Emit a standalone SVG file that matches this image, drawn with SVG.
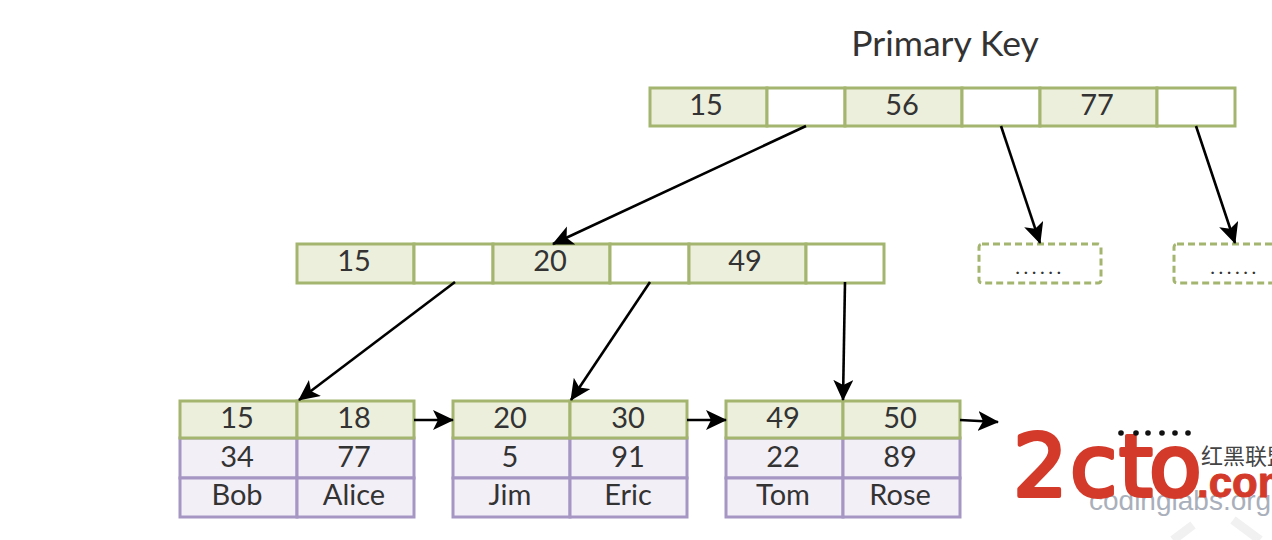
<svg xmlns="http://www.w3.org/2000/svg" width="1272" height="540" viewBox="0 0 1272 540">
<defs>
<marker id="ah" markerUnits="userSpaceOnUse" markerWidth="24" markerHeight="24" refX="20" refY="10" orient="auto"><path d="M0,0 L21,10 L0,20 L5,10 Z" fill="#000"/></marker>
</defs>
<style>
text{font-family:"Lato","Noto Sans",sans-serif;fill:#333;text-anchor:middle}
.v{font-size:29px}
.g{fill:#ecefdc;stroke:#a3b56f;stroke-width:3}
.w{fill:#fff;stroke:#a3b56f;stroke-width:3}
.p{fill:#f3eff7;stroke:#a596c4;stroke-width:3}
.d{fill:#fff;stroke:#a3b56f;stroke-width:3;stroke-dasharray:7 4}
.c{fill:none;stroke:#000;stroke-width:2.6;marker-end:url(#ah)}
.dots{font-size:20px;fill:#333;letter-spacing:3.5px}
.red{text-anchor:start;fill:#d43a2a;stroke:#d43a2a;stroke-linejoin:round}
</style>
<rect width="1272" height="540" fill="#fff"/>
<g id="watermark" stroke="#f1f1f1" stroke-width="9" fill="none"><path d="M1193,525 L1173,540"/><path d="M1233,520 L1260,540"/></g>
<text id="title" x="945" y="56" font-size="35.5">Primary Key</text>
<g id="root">
<rect class="g" x="650" y="88" width="117" height="38"/><rect class="w" x="767" y="88" width="78" height="38"/>
<rect class="g" x="845" y="88" width="117" height="38"/><rect class="w" x="962" y="88" width="78" height="38"/>
<rect class="g" x="1040" y="88" width="117" height="38"/><rect class="w" x="1157" y="88" width="78" height="38"/>
<text class="v" x="706" y="115">15</text><text class="v" x="902" y="115">56</text><text class="v" x="1097" y="115">77</text>
</g>
<g id="internal">
<rect class="g" x="297" y="244" width="117" height="39"/><rect class="w" x="414" y="244" width="79" height="39"/>
<rect class="g" x="493" y="244" width="117" height="39"/><rect class="w" x="610" y="244" width="79" height="39"/>
<rect class="g" x="689" y="244" width="117" height="39"/><rect class="w" x="806" y="244" width="78" height="39"/>
<text class="v" x="354" y="271">15</text><text class="v" x="550" y="271">20</text><text class="v" x="745" y="271">49</text>
</g>
<g id="more1"><rect class="d" x="979" y="244" width="122" height="39" rx="3"/><text class="dots" x="1040" y="274">......</text></g>
<g id="more2"><rect class="d" x="1174" y="244" width="122" height="39" rx="3"/><text class="dots" x="1235" y="274">......</text></g>
<g id="leaf1">
<rect class="p" x="180" y="438" width="117" height="40"/><rect class="p" x="297" y="438" width="117" height="40"/>
<rect class="p" x="180" y="478" width="117" height="39"/><rect class="p" x="297" y="478" width="117" height="39"/>
<rect class="g" x="180" y="401" width="117" height="37"/><rect class="g" x="297" y="401" width="117" height="37"/>
<text class="v" x="237" y="428">15</text><text class="v" x="354" y="428">18</text>
<text class="v" x="237" y="467">34</text><text class="v" x="354" y="467">77</text>
<text class="v" x="237" y="505">Bob</text><text class="v" x="354" y="505">Alice</text>
</g>
<g id="leaf2">
<rect class="p" x="453" y="438" width="117" height="40"/><rect class="p" x="570" y="438" width="117" height="40"/>
<rect class="p" x="453" y="478" width="117" height="39"/><rect class="p" x="570" y="478" width="117" height="39"/>
<rect class="g" x="453" y="401" width="117" height="37"/><rect class="g" x="570" y="401" width="117" height="37"/>
<text class="v" x="510" y="428">20</text><text class="v" x="628" y="428">30</text>
<text class="v" x="510" y="467">5</text><text class="v" x="628" y="467">91</text>
<text class="v" x="510" y="505">Jim</text><text class="v" x="628" y="505">Eric</text>
</g>
<g id="leaf3">
<rect class="p" x="726" y="438" width="117" height="40"/><rect class="p" x="843" y="438" width="117" height="40"/>
<rect class="p" x="726" y="478" width="117" height="39"/><rect class="p" x="843" y="478" width="117" height="39"/>
<rect class="g" x="726" y="401" width="117" height="37"/><rect class="g" x="843" y="401" width="117" height="37"/>
<text class="v" x="783" y="428">49</text><text class="v" x="900" y="428">50</text>
<text class="v" x="783" y="467">22</text><text class="v" x="900" y="467">89</text>
<text class="v" x="783" y="505">Tom</text><text class="v" x="900" y="505">Rose</text>
</g>
<g id="connectors">
<line class="c" x1="806" y1="126" x2="553" y2="244"/>
<line class="c" x1="1001" y1="126" x2="1040" y2="243"/>
<line class="c" x1="1196" y1="126" x2="1235" y2="243"/>
<line class="c" x1="455" y1="282" x2="299" y2="400"/>
<line class="c" x1="650" y1="282" x2="571" y2="400"/>
<line class="c" x1="845" y1="282" x2="843" y2="400"/>
<line class="c" x1="414" y1="420" x2="453" y2="420"/>
<line class="c" x1="687" y1="420" x2="726" y2="420"/>
<line class="c" x1="960" y1="420" x2="998" y2="422"/>
</g>
<g id="logo">
<text x="1089" y="510" font-size="28" style="text-anchor:start;fill:#aab0bb;font-family:'Liberation Sans',sans-serif">codinglabs.org</text>
<text class="red" x="1013 1070 1119 1149" y="496" font-size="86" stroke-width="4" style="font-family:'DejaVu Sans',sans-serif">2cto</text>
<text class="red" x="1197" y="497" font-size="42" stroke-width="1" style="font-family:'Liberation Sans',sans-serif;font-weight:700">.com</text>
<text x="1201" y="464" font-size="22" style="text-anchor:start;fill:#444;font-family:'Noto Sans CJK SC',sans-serif">红黑联盟</text>
<g fill="#111"><circle cx="1121" cy="433" r="2.8"/><circle cx="1136" cy="433" r="2.8"/><circle cx="1148" cy="433" r="2.8"/><circle cx="1162" cy="433" r="2.8"/><circle cx="1175" cy="433" r="2.8"/><circle cx="1188" cy="433" r="2.8"/></g>
</g>
</svg>
